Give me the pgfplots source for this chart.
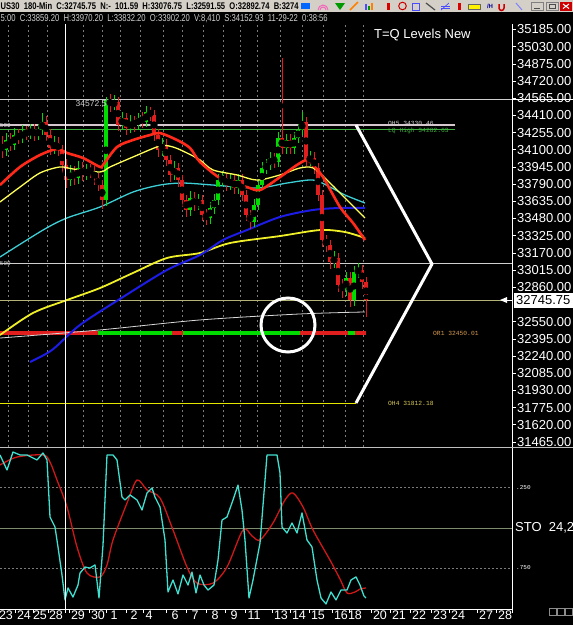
\documentclass[border=0pt]{standalone}
\usepackage{fontspec}
\setmainfont{Liberation Sans}
\newfontfamily\monof{Liberation Mono}
\usepackage{graphicx}
\usepackage{pgfplots}
\usepackage{pgfplotstable}
\pgfplotsset{compat=1.18}
\definecolor{cg}{HTML}{00DC00}
\definecolor{cr}{HTML}{E01E1E}
\definecolor{mared}{HTML}{FF2A1A}
\definecolor{mayel}{HTML}{FFFF55}
\definecolor{macyan}{HTML}{3CCFD6}
\definecolor{mablue}{HTML}{1C1CE6}
\definecolor{mayel2}{HTML}{F0F028}
\definecolor{mawhite}{HTML}{D8D8D8}
\definecolor{lvlw}{HTML}{CFCFCF}
\definecolor{lvlp}{HTML}{D6C6CE}
\definecolor{lvlg}{HTML}{3FAF3F}
\definecolor{lvlc}{HTML}{B4B478}
\definecolor{ohy}{HTML}{E6E600}
\definecolor{orl}{HTML}{D89A50}
\definecolor{ohl}{HTML}{D8C85A}
\definecolor{gridc}{HTML}{7A7A7A}
\definecolor{stoc}{HTML}{40E0D0}
\definecolor{stor}{HTML}{D01818}
\definecolor{stol}{HTML}{7C8C6C}
\definecolor{hdr}{HTML}{D4D0C8}

% up (green) candles: x open high low close
\pgfplotstableread{
x o h l c
6 34098 34255 34045 34188
14 34143 34295 34095 34233
22 34206 34320 34160 34260
30 34242 34335 34195 34278
38 34233 34335 34185 34278
42 34278 34430 34230 34351
54 34116 34220 34060 34161
70 33827 33960 33775 33900
78 33845 33995 33795 33936
86 33873 33975 33825 33918
106 33647 34572.5 33595 34549
114 34504 34595 34455 34531
122 34323 34445 34275 34387
130 34296 34410 34250 34351
138 34323 34435 34275 34387
146 34351 34495 34305 34441
162 34098 34205 34045 34143
174 33873 33995 33825 33936
190 33557 33725 33505 33665
198 33602 33705 33555 33647
210 33485 33630 33435 33575
214 33575 33700 33525 33647
218 33647 33885 33600 33827
222 33827 33905 33775 33845
230 33782 33885 33735 33827
238 33755 33885 33705 33827
254 33449 33655 33400 33602
258 33602 33835 33555 33782
262 33782 33990 33735 33936
266 33936 34020 33885 33963
270 33963 34080 33915 34026
278 33990 34265 33945 34206
286 34116 34245 34065 34188
294 34116 34260 34065 34206
298 34206 34335 34160 34278
302 34278 34445 34230 34351
310 34008 34085 33955 34026
334 33088 33185 33035 33124
346 32835 33000 32780 32943
354 32745 33055 32695 32998
358 32998 33076 32945 33016
}\upc

% down (red) candles
\pgfplotstableread{
x o h l c
2 34140 34225 34025 34098
10 34188 34250 34085 34143
18 34233 34290 34155 34206
26 34260 34315 34190 34242
34 34278 34330 34180 34233
46 34351 34405 34180 34233
50 34233 34285 34055 34116
58 34161 34215 34040 34098
62 34098 34145 33895 33963
66 33963 34015 33755 33827
74 33900 33955 33785 33845
82 33936 33990 33815 33873
90 33918 33970 33845 33900
94 33900 33950 33785 33845
98 33845 33895 33725 33782
102 33782 33830 33565 33647
110 34549 34600 34445 34504
118 34531 34580 34265 34323
126 34387 34435 34235 34296
134 34351 34405 34265 34323
142 34387 34440 34300 34351
150 34441 34490 34360 34414
154 34414 34460 34175 34233
158 34233 34285 34035 34098
166 34143 34195 33950 34008
170 34008 34055 33810 33873
178 33936 33985 33765 33827
182 33827 33875 33585 33647
186 33647 33695 33495 33557
194 33665 33720 33550 33602
202 33647 33695 33455 33512
206 33512 33565 33425 33485
226 33845 33895 33725 33782
234 33827 33875 33700 33755
242 33827 33880 33635 33692
246 33692 33740 33455 33512
250 33512 33560 33385 33449
274 34026 34075 33935 33990
282 34206 34928 34065 34116
290 34188 34240 34060 34116
306 34351 34400 33950 34008
314 34026 34080 33880 33936
318 33936 33985 33635 33692
322 33692 33740 33225 33286
326 33286 33335 33175 33241
330 33241 33290 33025 33088
338 33124 33170 32815 32880
342 32880 32935 32765 32835
350 32943 32995 32685 32745
362 33016 33065 32845 32907
366 32907 32955 32591 32745.75
}\dnc

\pgfplotsset{
  wick/.style={only marks, mark=none, forget plot, line width=1pt,
    error bars/.cd, y dir=both, y explicit, error mark=none,
    error bar style={draw=#1, line width=1pt}},
  body/.style={only marks, mark=none, forget plot, line width=3.2pt,
    error bars/.cd, y dir=both, y explicit, error mark=none,
    error bar style={draw=#1, line width=3.2pt, line cap=butt}},
}

\begin{document}
\begin{tikzpicture}
\path[use as bounding box] (0pt,0pt) rectangle (573pt,-625pt);
\fill[black] (0pt,0pt) rectangle (573pt,-625pt);
\begin{scope}[x=1pt,y=1pt]
% header row 1
\fill[hdr] (0,0) rectangle (573,-12);
\node[anchor=base west, inner sep=0pt] at (0.5,-9.5) {\resizebox{298pt}{7pt}{\bfseries US30\ \ 180-Min\ \ C:32745.75\ \ N:-\ \ 101.59\ \ H:33076.75\ \ L:32591.55\ \ O:32892.74\ \ B:3274}};
% toolbar icons
\fill[blue!60!cyan] (301,-3) rectangle (310,-9);
\draw[magenta!60, line width=1pt] (318,-10) arc (180:0:5);
\draw[magenta!60, line width=1pt] (320,-10) arc (180:0:3);
\fill[green!60!black] (335,-3) -- (345,-3) -- (340,-10) -- cycle;
\draw[orange, line width=1.5pt] (350,-10) -- (358,-2);
\fill[blue!70] (365,-4) rectangle (367,-10); \fill[green!60!black] (368,-6) rectangle (370,-10); \fill[orange] (371,-3) rectangle (373,-10);
\fill[red!85!black] (387,-3) rectangle (390,-10);
\draw[red!80!black, line width=1pt] (402.5,-6) circle (3.8);
\draw[blue!70, line width=0.8pt] (412,-3) rectangle (419,-10);
\draw[black!70, line width=1.2pt] (426,-3) -- (435,-10);
\draw[blue!70, line width=0.7pt] (441,-10) -- (449,-3); \draw[blue!70, line width=0.7pt] (441,-6) -- (450,-6); \draw[blue!70, line width=0.7pt] (441,-8) -- (450,-8);
\fill[red!85!black] (458,-3) rectangle (461,-10);
\fill[yellow] (468,-4) rectangle (480,-9); \draw[black!60] (468,-4) rectangle (480,-9);
\node[inner sep=0pt, text=blue!60!black, font=\fontsize{6}{6}\selectfont\bfseries] at (490,-6.5) {/H};
\draw[red!80!black, line width=1.5pt] (499,-4) -- (499,-8) arc (180:360:2.5) -- (504,-4);
\draw[blue!50, line width=1pt] (516,-3) -- (522,-10);
\draw[black!50, fill=hdr] (531,-2) rectangle (543,-10.5); \draw[black!70, line width=1pt] (534,-8.5) -- (540,-8.5);
\draw[black!50, fill=hdr] (546,-2) rectangle (558,-10.5); \draw[black!70] (549,-4) rectangle (555,-8.5);
\fill[red!80!black] (560,-2) rectangle (572,-10.5); \draw[white, line width=1pt] (563,-4) -- (569,-8.5) (563,-8.5) -- (569,-4);
% header row 2
\node[anchor=base west, inner sep=0pt, text=lvlw] at (0.5,-21) {\resizebox{327pt}{7pt}{5:00\ \ C:33859.20\ \ H:33970.20\ \ L:33832.20\ \ O:33902.20\ \ V:8,410\ \ S:34152.93\ \ 11-29-22\ \ 0:38:56}};
% vertical dotted grid
\foreach \gx in {8,28,47,83,102,120,140,163,182,203,223,240,257,280,302,323,345,363}
  \draw[gridc, line width=0.6pt, dash pattern=on 2pt off 3pt] (\gx,-25) -- (\gx,-447);
\end{scope}

% ===== price panel =====
\begin{axis}[
  at={(0pt,-24pt)}, anchor=north west,
  width=512pt, height=423pt, scale only axis,
  xmin=0, xmax=512, ymin=31419, ymax=35234.5,
  axis x line=none, axis y line*=right,
  axis line style={white, line width=0.8pt},
  ytick={31465,31620,31775,31930,32085,32240,32395,32550,32860,33015,33170,33325,33480,33635,33790,33945,34100,34255,34410,34565,34720,34875,35030,35185},
  tick style={white, line width=0.6pt}, major tick length=4pt, tick align=outside,
  scaled y ticks=false,
  yticklabel style={text=white, font=\fontsize{13}{13}\selectfont, inner sep=1pt,
    /pgf/number format/fixed, /pgf/number format/fixed zerofill,
    /pgf/number format/precision=2, /pgf/number format/1000 sep={},
    /pgf/number format/assume math mode=true},
]
% levels
\addplot[lvlw, line width=1pt, forget plot] coordinates {(0,34558) (512,34558)};
\addplot[lvlp, line width=2.2pt, forget plot] coordinates {(0,34322) (455,34322)};
\addplot[lvlg, line width=0.7pt, forget plot] coordinates {(0,34282) (455,34282)};
\addplot[lvlw, line width=1pt, forget plot] coordinates {(0,33070) (512,33070)};
\addplot[lvlc, line width=0.6pt, forget plot] coordinates {(0,32745.75) (512,32745.75)};
\addplot[ohy, line width=1.5pt, forget plot] coordinates {(0,31812.18) (356,31812.18)};
% OR1 red/green band
\addplot[cr, line width=4.5pt, forget plot] coordinates {(0,32448) (98,32448)};
\addplot[cg, line width=4.5pt, forget plot] coordinates {(98,32448) (172,32448)};
\addplot[cr, line width=4.5pt, forget plot] coordinates {(172,32448) (183,32448)};
\addplot[cg, line width=4.5pt, forget plot] coordinates {(183,32448) (300,32448)};
\addplot[cr, line width=4.5pt, forget plot] coordinates {(300,32448) (348,32448)};
\addplot[cg, line width=4.5pt, forget plot] coordinates {(348,32448) (355,32448)};
\addplot[cr, line width=4.5pt, forget plot] coordinates {(355,32448) (366,32448)};
% slow moving averages
\addplot[mawhite, line width=0.8pt, smooth, forget plot] coordinates {(0,32402)(100,32475)(200,32565)(300,32619)(365,32637)};
\addplot[mayel2, line width=1.8pt, smooth, forget plot] coordinates {(0,32429)(33,32628)(67,32745)(100,32853)(133,32989)(167,33124)(200,33169)(230,33259)(280,33322)(320,33376)(345,33358)(365,33304)};
\addplot[mablue, line width=2pt, smooth, forget plot] coordinates {(30,32186)(52,32294)(80,32520)(123,32772)(167,33016)(200,33151)(223,33286)(247,33376)(280,33494)(313,33557)(340,33575)(365,33575)};
\addplot[macyan, line width=1.3pt, smooth, forget plot] coordinates {(0,33133)(43,33376)(67,33485)(100,33584)(133,33719)(160,33782)(183,33800)(213,33782)(257,33755)(287,33800)(313,33827)(330,33764)(345,33692)(365,33620)};
% candles: wicks and bodies
\addplot[wick=cg] table[x=x, y expr={(\thisrow{h}+\thisrow{l})/2}, y error expr={(\thisrow{h}-\thisrow{l})/2}] {\upc};
\addplot[body=cg] table[x=x, y expr={(\thisrow{o}+\thisrow{c})/2}, y error expr={abs(\thisrow{c}-\thisrow{o})/2}] {\upc};
\addplot[wick=cr] table[x=x, y expr={(\thisrow{h}+\thisrow{l})/2}, y error expr={(\thisrow{h}-\thisrow{l})/2}] {\dnc};
\addplot[body=cr] table[x=x, y expr={(\thisrow{o}+\thisrow{c})/2}, y error expr={abs(\thisrow{c}-\thisrow{o})/2}] {\dnc};
% fast moving averages
\addplot[mayel, line width=1.3pt, smooth, forget plot] coordinates {(0,33629)(20,33764)(40,33891)(60,33945)(73,33927)(100,33900)(110,33945)(133,34035)(160,34134)(173,34125)(187,34071)(200,34008)(213,33918)(237,33873)(257,33827)(280,33873)(300,33936)(313,33936)(327,33827)(347,33647)(365,33485)};
\addplot[mared, line width=2.6pt, smooth, forget plot] coordinates {(0,33782)(20,33945)(40,34053)(57,34107)(67,34071)(83,34026)(100,33945)(103,33963)(117,34125)(133,34188)(150,34233)(160,34251)(177,34188)(190,34116)(200,33990)(223,33827)(247,33764)(260,33737)(280,33854)(297,33963)(307,34008)(313,33963)(323,33854)(340,33584)(353,33440)(365,33286)};
% level labels
\node[anchor=west, inner sep=0pt, text=lvlw, font=\monof\fontsize{6.3}{6.3}\selectfont] at (axis cs:388,34336) {OH5 34330.46};
\node[anchor=west, inner sep=0pt, text=lvlg, font=\monof\fontsize{6.3}{6.3}\selectfont] at (axis cs:388,34272) {LQ High 34282.63};
\node[anchor=west, inner sep=0pt, text=orl, font=\monof\fontsize{6.3}{6.3}\selectfont] at (axis cs:433,32448) {OR1 32450.01};
\node[anchor=west, inner sep=0pt, text=ohl, font=\monof\fontsize{6.3}{6.3}\selectfont] at (axis cs:388,31812) {OH4 31812.18};
\node[inner sep=0pt, text=lvlw, font=\fontsize{8.5}{8.5}\selectfont] at (axis cs:91,34513) {34572.5};
\node[anchor=east, inner sep=0pt, text=lvlw, font=\monof\fontsize{6}{6}\selectfont] at (axis cs:11,34322) {500};
\node[anchor=east, inner sep=0pt, text=lvlw, font=\monof\fontsize{6}{6}\selectfont] at (axis cs:11,33070) {500};
\end{axis}

% ===== stochastic panel =====
\begin{axis}[
  at={(0pt,-447pt)}, anchor=north west,
  width=512pt, height=162pt, scale only axis,
  xmin=0, xmax=512, ymin=0, ymax=100,
  axis y line=none, axis x line*=bottom,
  axis line style={white, line width=0.8pt},
  xtick={6,24,40,56,78,98,114,134,149,175,195,215,234,254,281,299,318,341,355,380,399,419,440,458,486,505},
  xticklabels={23,24,25,28,29,30,1,2,4,6,7,8,9,11,13,14,15,16,18,20,21,22,23,24,27,28},
  major tick length=0pt,
  xticklabel style={text=white, font=\fontsize{12.5}{12.5}\selectfont, inner sep=1pt, yshift=-1pt},
]
\addplot[gridc, line width=0.6pt, dash pattern=on 2pt off 2pt, forget plot] coordinates {(0,75) (512,75)};
\addplot[gridc, line width=0.6pt, dash pattern=on 2pt off 2pt, forget plot] coordinates {(0,25) (512,25)};
\addplot[stol, line width=0.8pt, forget plot] coordinates {(0,50) (512,50)};
\addplot[stor, line width=1.3pt, smooth, forget plot] coordinates {(0,88.9)(17,93.8)(43,95.1)(50,90.7)(57,79.6)(67,63.0)(77,38.3)(87,22.2)(100,19.8)(107,27.2)(113,42.6)(127,65.4)(137,79.6)(147,73.5)(160,68.5)(173,48.8)(187,25.9)(197,16.0)(213,16.0)(227,25.9)(243,48.8)(252,45.1)(260,42.6)(273,53.1)(285,67.3)(293,71.6)(303,63.0)(313,48.8)(330,30.2)(340,18.5)(347,9.9)(355,10.5)(360,12.3)(366,13.0)};
\addplot[stoc, line width=1.3pt, line join=round, forget plot] coordinates {(0,95.1)(7,85.8)(13,96.9)(20,95.1)(27,95.1)(33,93.2)(37,92.0)(43,96.3)(47,92.0)(50,56.8)(55,50.6)(58,38.3)(62,21.0)(65,5.6)(68,13.0)(73,7.4)(78,14.8)(80,22.2)(85,25.9)(90,25.3)(95,27.2)(99,6.8)(103,39.5)(107,95.1)(113,95.1)(117,92.0)(122,69.1)(125,67.3)(130,70.4)(137,67.3)(142,61.1)(147,71.6)(152,74.7)(155,69.1)(160,63.0)(165,42.6)(168,10.5)(173,17.9)(178,9.3)(183,21.0)(188,14.8)(192,22.8)(196,9.9)(200,21.0)(204,14.8)(208,11.7)(214,14.8)(218,30.2)(222,54.9)(227,56.8)(233,67.3)(238,76.5)(242,61.1)(245,42.6)(249,6.8)(253,17.9)(260,40.7)(267,95.1)(277,95.1)(280,84.0)(282,50.6)(287,46.9)(292,53.1)(297,46.9)(302,59.3)(307,42.6)(312,38.3)(317,17.9)(321,6.8)(326,3.1)(331,10.5)(336,5.6)(341,11.7)(347,11.7)(351,17.9)(356,19.8)(360,14.8)(364,8.0)(366,6.8)};
\end{axis}

% ===== overlays =====
\begin{scope}[x=1pt,y=1pt]
\draw[white, line width=1pt] (512,-99) -- (573,-99);
\draw[white, line width=0.8pt] (512,-24) -- (512,-613);
\draw[black!25, line width=0.8pt] (0,-447) -- (573,-447);
\draw[white, line width=0.7pt] (65,-24) -- (65,-613);
\foreach \t in {15,33,48,69,89,106,126,143,166,186,206,225,245,272,290,309,332,349,371,390,410,431,449,477,496}
  \draw[white, line width=0.6pt] (\t,-609) -- (\t,-613);
% annotations
\draw[white, line width=3pt, line join=round] (356,-125) -- (432,-264) -- (356,-403);
\draw[white, line width=3pt] (288,-325) circle (27);
\node[anchor=base west, inner sep=0pt, text=white, font=\fontsize{13}{13}\selectfont] at (374,-38) {T=Q Levels New};
% current price marker
\fill[white] (500,-300) -- (507,-297) -- (507,-303) -- cycle;
\draw[white, line width=0.8pt] (507,-300) -- (512,-300);
\fill[white] (514,-293) rectangle (573,-307.5);
\node[anchor=west, inner sep=0pt, text=black, font=\fontsize{13}{13}\selectfont] at (516,-300.5) {32745.75};
% stochastic labels
\node[anchor=west, inner sep=0pt, text=white, font=\monof\fontsize{6}{6}\selectfont] at (516,-488) {.250};
\node[anchor=west, inner sep=0pt, text=white, font=\monof\fontsize{6}{6}\selectfont] at (516,-568) {.750};
\node[anchor=west, inner sep=0pt, text=white, font=\fontsize{13}{13}\selectfont] at (515,-528) {STO\ \ 24,2};
\foreach \bx in {549,557,565}
  \draw[black!45, line width=0.6pt] (\bx,-608) rectangle ++(7,-7);
\end{scope}
\end{tikzpicture}
\end{document}
